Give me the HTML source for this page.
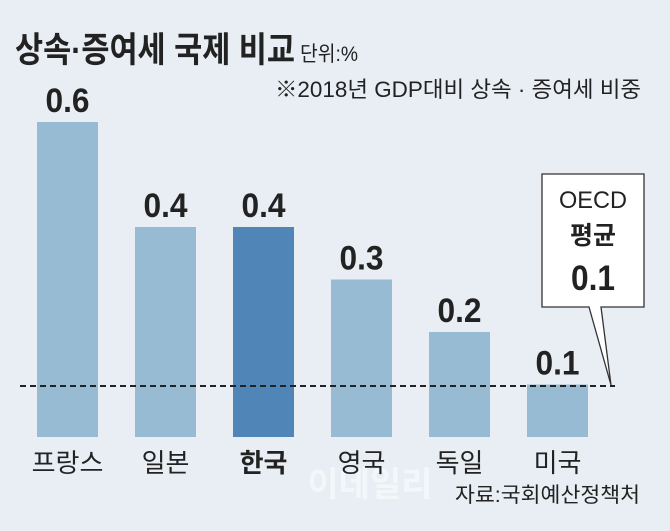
<!DOCTYPE html>
<html><head><meta charset="utf-8"><style>
html,body{margin:0;padding:0;background:#e8eef3;}
svg{display:block;font-family:"Liberation Sans","Noto Sans CJK KR",sans-serif;}
</style></head><body>
<svg id="chart" width="670" height="531" viewBox="0 0 670 531" xmlns="http://www.w3.org/2000/svg">
<rect width="670" height="531" fill="#e8eef3"/>
<text x="15" y="62" font-size="35" font-weight="bold" fill="#222" textLength="280" lengthAdjust="spacingAndGlyphs">상속·증여세 국제 비교</text>
<text x="300" y="61" font-size="21" fill="#222" textLength="58" lengthAdjust="spacingAndGlyphs">단위:%</text>
<text x="275" y="97" font-size="22" fill="#222" textLength="366" lengthAdjust="spacingAndGlyphs">※2018년 GDP대비 상속 · 증여세 비중</text>
<text x="370" y="496" font-size="34" font-weight="bold" fill="#f4f7fa" text-anchor="middle">이데일리</text>
<g id="bars"></g>
<line x1="20" y1="386" x2="615" y2="386" stroke="#222" stroke-width="2" stroke-dasharray="6,4"/>
<g>
<path d="M542,174 H644 V307 H601 L611,385 L589,307 H542 Z" fill="#fff" stroke="#333" stroke-width="1.3"/>
<text x="593" y="208" font-size="24" text-anchor="middle" fill="#222" textLength="68" lengthAdjust="spacingAndGlyphs">OECD</text>
<text x="593" y="244" font-size="25" font-weight="bold" text-anchor="middle" fill="#222">평균</text>
<text x="593" y="290" font-size="35" font-weight="bold" text-anchor="middle" fill="#222" textLength="44" lengthAdjust="spacingAndGlyphs">0.1</text>
</g>
<text x="640" y="502" font-size="21" fill="#222" text-anchor="end" textLength="185" lengthAdjust="spacingAndGlyphs">자료:국회예산정책처</text>
</svg>
<script>
const categories=["프랑스","일본","한국","영국","독일","미국"];
const values=[0.6,0.4,0.4,0.3,0.2,0.1];
const valueLabels=["0.6","0.4","0.4","0.3","0.2","0.1"];
const highlight="한국";
const baseY=437, pxPerUnit=525, x0=37, step=98, barW=61;
const xScale=i=>x0+i*step;
const yScale=v=>baseY-v*pxPerUnit;
const ns="http://www.w3.org/2000/svg";
const g=document.getElementById('bars');
categories.forEach((c,i)=>{
  const x=xScale(i), y=yScale(values[i]);
  const r=document.createElementNS(ns,'rect');
  r.setAttribute('x',x);r.setAttribute('y',y);r.setAttribute('width',barW);r.setAttribute('height',baseY-y);
  r.setAttribute('fill',c===highlight?'#5086b7':'#98bbd4');
  
  
  g.appendChild(r);
  const t=document.createElementNS(ns,'text');
  t.setAttribute('x',x+barW/2);t.setAttribute('y',y-10);t.setAttribute('font-size','34');t.setAttribute('font-weight','bold');
  t.setAttribute('textLength','44');t.setAttribute('lengthAdjust','spacingAndGlyphs');
  t.setAttribute('text-anchor','middle');t.setAttribute('fill','#222');t.textContent=valueLabels[i];
  
  
  g.appendChild(t);
  const l=document.createElementNS(ns,'text');
  l.setAttribute('x',x+barW/2);l.setAttribute('y',472);l.setAttribute('font-size','26');
  if(c===highlight)l.setAttribute('font-weight','bold');
  l.setAttribute('text-anchor','middle');l.setAttribute('fill','#222');l.textContent=c;
  
  
  g.appendChild(l);
});
</script>
</body></html>
